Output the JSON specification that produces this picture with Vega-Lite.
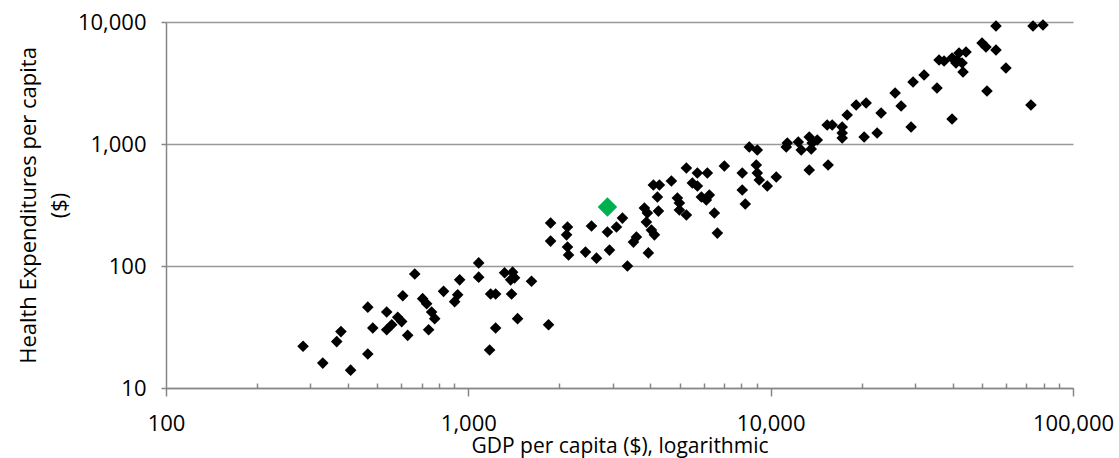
{
  "$schema": "https://vega.github.io/schema/vega-lite/v6.json",
  "width": 907,
  "height": 366,
  "autosize": {"type": "none"},
  "padding": {"left": 166, "top": 22, "right": 46, "bottom": 70},
  "config": {"view": {"stroke": null}, "font": "Open Sans"},
  "layer": [
    {
      "data": {"values": [
        {"gdp":284,"he":22},{"gdp":330,"he":16},{"gdp":408,"he":14},{"gdp":367,"he":24},{"gdp":379,"he":29},
        {"gdp":465,"he":19},{"gdp":465,"he":46},{"gdp":483,"he":31},{"gdp":537,"he":42},{"gdp":537,"he":30},
        {"gdp":558,"he":33},{"gdp":584,"he":38},{"gdp":602,"he":35},{"gdp":607,"he":57},{"gdp":630,"he":27},
        {"gdp":665,"he":86},{"gdp":706,"he":54},{"gdp":728,"he":49},{"gdp":739,"he":30},{"gdp":756,"he":42},
        {"gdp":774,"he":37},{"gdp":828,"he":62},{"gdp":901,"he":51},{"gdp":922,"he":58},{"gdp":936,"he":77},
        {"gdp":1082,"he":106},{"gdp":1082,"he":81},{"gdp":1185,"he":59},{"gdp":1231,"he":59},{"gdp":1231,"he":31},
        {"gdp":1318,"he":88},{"gdp":1401,"he":89},{"gdp":1422,"he":80},{"gdp":1380,"he":77},{"gdp":1390,"he":59},
        {"gdp":1455,"he":37},{"gdp":1618,"he":75},{"gdp":1842,"he":33},{"gdp":1176,"he":20.5},
        {"gdp":1871,"he":225},{"gdp":1871,"he":160},{"gdp":2128,"he":209},{"gdp":2113,"he":180},{"gdp":2128,"he":143},
        {"gdp":2145,"he":123},{"gdp":2441,"he":130},{"gdp":2654,"he":116},{"gdp":2555,"he":213},{"gdp":2885,"he":190},
        {"gdp":2930,"he":135},{"gdp":3090,"he":209},{"gdp":3234,"he":247},{"gdp":3359,"he":100},{"gdp":3517,"he":157},
        {"gdp":3597,"he":173},{"gdp":3822,"he":299},{"gdp":3910,"he":272},{"gdp":3881,"he":229},{"gdp":4032,"he":197},
        {"gdp":4126,"he":180},{"gdp":3940,"he":128},{"gdp":4253,"he":282},{"gdp":4221,"he":368},{"gdp":4093,"he":461},
        {"gdp":4286,"he":461},{"gdp":4695,"he":497},{"gdp":5263,"he":636},{"gdp":5722,"he":578},{"gdp":6174,"he":578},
        {"gdp":5508,"he":479},{"gdp":5722,"he":453},{"gdp":4914,"he":361},{"gdp":4990,"he":328},{"gdp":4990,"he":288},
        {"gdp":5263,"he":262},{"gdp":5899,"he":368},{"gdp":6268,"he":382},{"gdp":6126,"he":348},{"gdp":6513,"he":272},
        {"gdp":6664,"he":186},{"gdp":7028,"he":660},{"gdp":8054,"he":578},{"gdp":8054,"he":420},{"gdp":8243,"he":322},
        {"gdp":8497,"he":945},{"gdp":9031,"he":893},{"gdp":8963,"he":673},{"gdp":9031,"he":578},{"gdp":9170,"he":507},
        {"gdp":9746,"he":453},{"gdp":10435,"he":536},{"gdp":11350,"he":1019},{"gdp":11260,"he":945},{"gdp":12340,"he":1038},
        {"gdp":12620,"he":893},{"gdp":13415,"he":1141},{"gdp":13720,"he":1019},{"gdp":14260,"he":1079},{"gdp":13620,"he":910},
        {"gdp":13415,"he":612},{"gdp":15490,"he":673},{"gdp":15380,"he":1432},{"gdp":15980,"he":1432},{"gdp":17240,"he":1378},
        {"gdp":17240,"he":1231},{"gdp":17240,"he":1120},{"gdp":17910,"he":1729},{"gdp":19180,"he":2088},{"gdp":20690,"he":2168},
        {"gdp":20380,"he":1141},{"gdp":22500,"he":1231},{"gdp":23190,"he":1795},{"gdp":25800,"he":2618},{"gdp":27010,"he":2049},
        {"gdp":29140,"he":1378},{"gdp":29580,"he":3224},{"gdp":32170,"he":3678},{"gdp":35490,"he":2877},{"gdp":36060,"he":4881},
        {"gdp":37460,"he":4790},{"gdp":39810,"he":5070},{"gdp":41330,"he":4881},{"gdp":41980,"he":5568},{"gdp":44270,"he":5678},
        {"gdp":42960,"he":4613},{"gdp":41020,"he":4613},{"gdp":43280,"he":3892},{"gdp":39810,"he":1603},{"gdp":50020,"he":6728},
        {"gdp":51540,"he":6237},{"gdp":55620,"he":5893},{"gdp":55620,"he":9275},{"gdp":51940,"he":2719},{"gdp":60000,"he":4198},
        {"gdp":72600,"he":2088},{"gdp":73730,"he":9275},{"gdp":79560,"he":9446}
      ]},
      "mark": {"type": "point", "shape": "diamond", "filled": true, "size": 135, "color": "#000000", "opacity": 1},
      "encoding": {
        "x": {
          "field": "gdp", "type": "quantitative",
          "scale": {"type": "log", "domain": [100, 100000], "nice": false},
          "axis": {
            "title": "GDP per capita ($), logarithmic",
            "values": [100,200,300,400,500,600,700,800,900,1000,2000,3000,4000,5000,6000,7000,8000,9000,10000,20000,30000,40000,50000,60000,70000,80000,90000,100000],
            "labelExpr": "indexof([100,1000,10000,100000], datum.value) >= 0 ? format(datum.value, ',') : ''",
            "labelFlush": false,
            "labelOverlap": false,
            "grid": false,
            "domainColor": "#868686",
            "domainWidth": 1.5,
            "tickColor": "#868686",
            "tickWidth": 1.5,
            "tickSize": {"condition": {"test": "indexof([100,1000,10000,100000], datum.value) >= 0", "value": 8}, "value": -5},
            "labelFontSize": 22,
            "labelColor": "#000000",
            "labelBaseline": "alphabetic",
            "labelPadding": 34,
            "titleFontSize": 21,
            "titleFontWeight": "normal",
            "titleColor": "#000000",
            "titleY": 64,
            "titleBaseline": "alphabetic",
            "titleAlign": "center"
          }
        },
        "y": {
          "field": "he", "type": "quantitative",
          "scale": {"type": "log", "domain": [10, 10000], "nice": false},
          "axis": {
            "title": ["Health Expenditures per capita", "($)"],
            "values": [10, 100, 1000, 10000],
            "format": ",",
            "grid": true,
            "gridColor": "#999999",
            "gridWidth": 1.5,
            "domainColor": "#868686",
            "domainWidth": 1.5,
            "tickColor": "#868686",
            "tickWidth": 1.5,
            "tickSize": 5,
            "labelFontSize": 22,
            "labelColor": "#000000",
            "labelPadding": 15,
            "titleFontSize": 22,
            "titleFontWeight": "normal",
            "titleColor": "#000000",
            "titleLineHeight": 31,
            "titleX": -138,
            "titleY": 183,
            "titleBaseline": "middle",
            "titleAlign": "center",
            "titleAngle": -90
          }
        }
      }
    },
    {
      "data": {"values": [{"gdp": 2885, "he": 305}]},
      "mark": {"type": "point", "shape": "diamond", "filled": true, "size": 380, "color": "#00b050", "opacity": 1},
      "encoding": {
        "x": {"field": "gdp", "type": "quantitative"},
        "y": {"field": "he", "type": "quantitative"}
      }
    }
  ]
}
